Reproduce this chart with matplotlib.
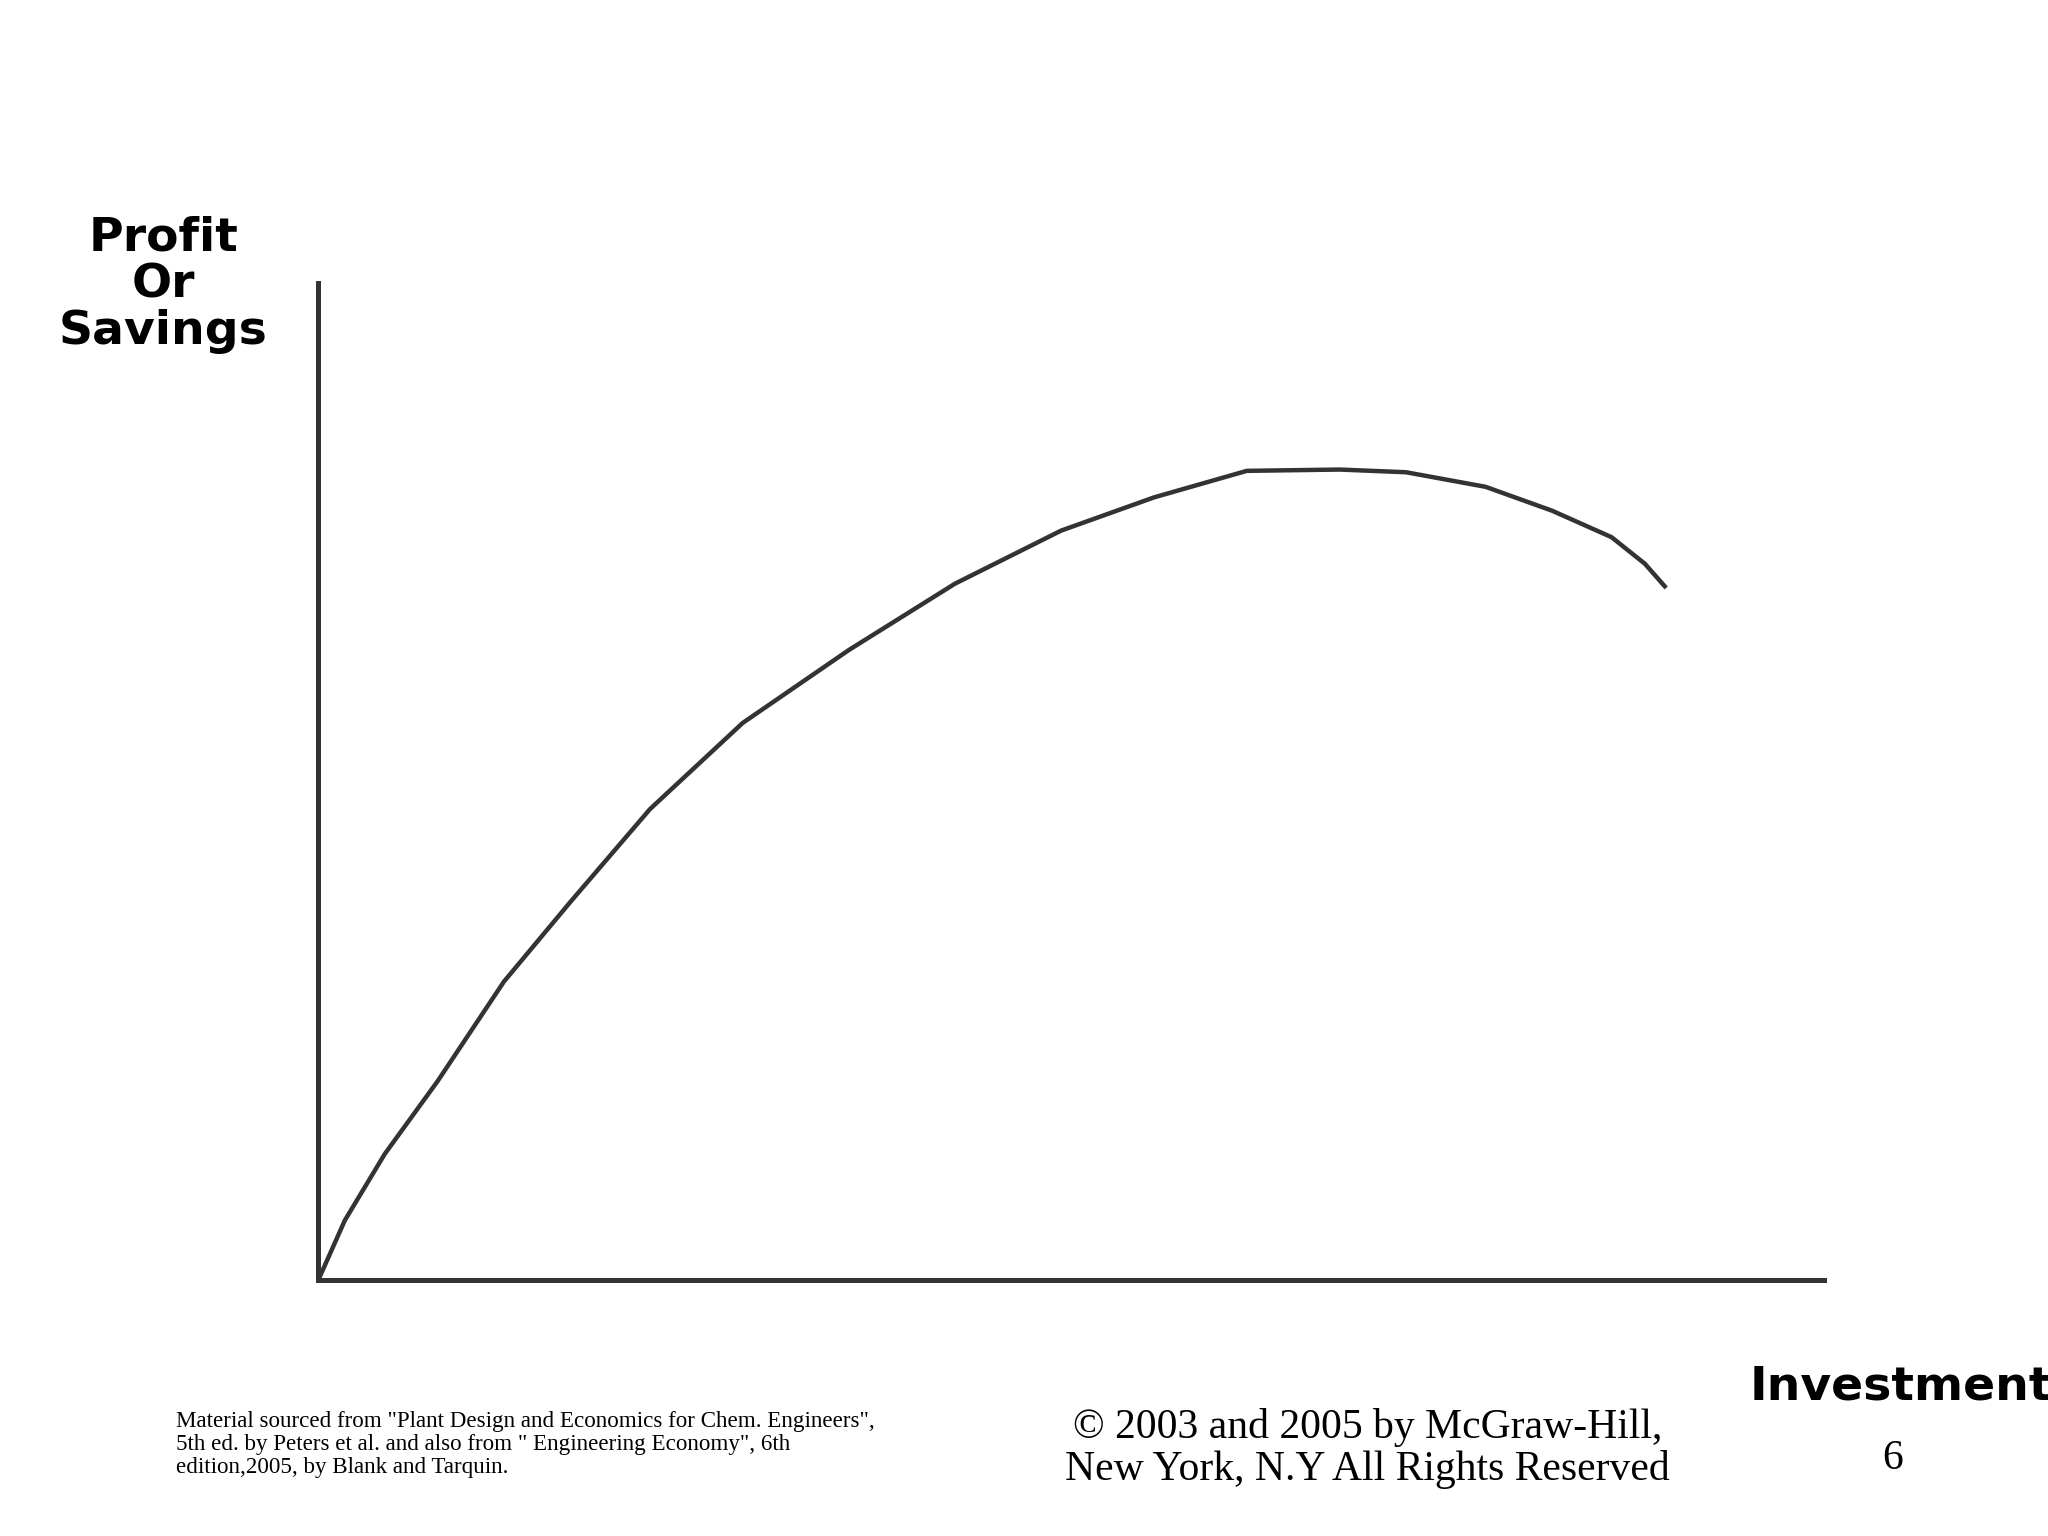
import matplotlib
matplotlib.use("Agg")
import matplotlib.pyplot as plt

investment = [0, 1.76, 4.41, 7.93, 12.33, 16.74, 22.03, 28.19, 35.24, 42.29, 49.34,
              55.51, 61.67, 67.84, 72.25, 77.53, 81.94, 85.90, 88.11, 89.43]
profit = [0, 5.98, 12.63, 19.95, 29.92, 37.90, 47.21, 55.85, 63.16, 69.81, 75.13,
          78.46, 81.12, 81.25, 80.98, 79.52, 77.13, 74.47, 71.81, 69.55]

fig = plt.figure(figsize=(10.24, 7.68), dpi=200)
W, H = 1544, 1158
ax = fig.add_axes([240/W, 1-965/H, 1135/W, 752/H])
ax.plot(investment, profit, color="#333333", lw=1.6)
ax.set_xlim(0, 100); ax.set_ylim(0, 100)
for s in ["top", "right"]:
    ax.spines[s].set_visible(False)
for s in ["left", "bottom"]:
    ax.spines[s].set_linewidth(1.8); ax.spines[s].set_color("#333333")
ax.set_xticks([]); ax.set_yticks([])

fig.text(123/W, 1-215/H, "Profit\nOr\nSavings", ha="center", va="center",
         fontsize=17, fontweight="bold", linespacing=1.05)
fig.text(1433/W, 1-1046/H, "Investment", ha="center", va="center",
         fontsize=17, fontweight="bold")
fig.text(133/W, 1-1089/H,
         'Material sourced from "Plant Design and Economics for Chem. Engineers",\n'
         '5th ed. by Peters et al. and also from " Engineering Economy", 6th\n'
         'edition,2005, by Blank and Tarquin.',
         ha="left", va="center", fontsize=8.3, family="Liberation Serif", linespacing=1.15)
fig.text(1031/W, 1-1092/H, "© 2003 and 2005 by McGraw-Hill,\nNew York, N.Y All Rights Reserved",
         ha="center", va="center", fontsize=15, family="Liberation Serif", linespacing=1.1)
fig.text(1427/W, 1-1100/H, "6", ha="center", va="center", fontsize=15, family="Liberation Serif")
fig.savefig("out.png", dpi=200)
